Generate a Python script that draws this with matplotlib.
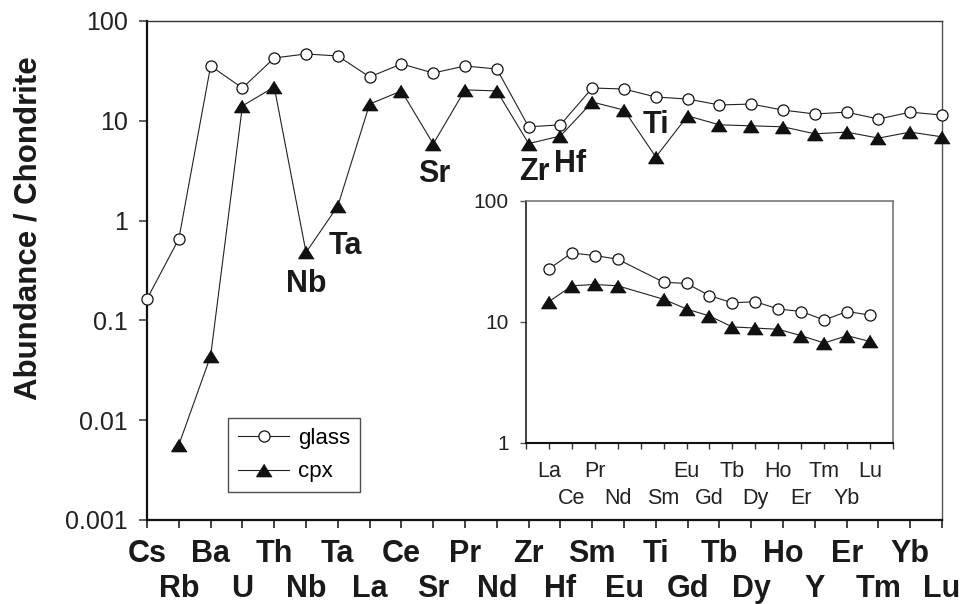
import matplotlib
matplotlib.use("Agg")
import matplotlib.pyplot as plt
from matplotlib.ticker import FixedLocator, NullLocator

plt.rcParams['font.family'] = ['Liberation Sans', 'DejaVu Sans']

# spider diagram data, values normalised to chondrite
elements = ["Cs", "Rb", "Ba", "U", "Th", "Nb", "Ta", "La", "Ce", "Sr", "Pr", "Nd", "Zr",
            "Hf", "Sm", "Eu", "Ti", "Gd", "Tb", "Dy", "Ho", "Y", "Er", "Tm", "Yb", "Lu"]
glass = [0.164, 0.655, 35.4, 21.3, 42.6, 46.7, 44.6, 27.5, 37.1, 30.1, 35.4, 33.0, 8.7,
         9.1, 21.3, 20.8, 17.3, 16.5, 14.4, 14.7, 12.8, 11.7, 12.2, 10.4, 12.2, 11.4]
cpx = [None, 0.00565, 0.044, 14.1, 21.8, 0.48, 1.40, 14.7, 19.9, 5.86, 20.4, 19.9, 5.9,
       7.04, 15.4, 12.8, 4.34, 11.2, 9.1, 8.9, 8.7, 7.4, 7.7, 6.7, 7.7, 6.9]

# rare earth elements for the inset (Pm has no data)
ree = ["La", "Ce", "Pr", "Nd", "Pm", "Sm", "Eu", "Gd", "Tb", "Dy", "Ho", "Er", "Tm", "Yb", "Lu"]

# anomaly labels: text, x position, baseline value
anomalies = [("Nb", 5.02, 0.193), ("Ta", 6.25, 0.463), ("Sr", 9.03, 2.44),
             ("Zr", 12.17, 2.55), ("Hf", 13.3, 3.07), ("Ti", 16.0, 7.55)]

main_yticks = [0.001, 0.01, 0.1, 1, 10, 100]
main_ylabels = ["0.001", "0.01", "0.1", "1", "10", "100"]

line_col = '#222222'
tri = [(0, 0.8), (-1, -0.8), (1, -0.8)]

fig = plt.figure(figsize=(9.66, 6.04), dpi=100)
ax = fig.add_axes([0.1522, 0.1391, 0.8230, 0.8262])

x = list(range(len(elements)))
cx = [i for i, v in zip(x, cpx) if v is not None]
cy = [v for v in cpx if v is not None]

ax.plot(x, glass, color=line_col, lw=0.8, marker='o', ms=8, mfc='white',
        mec='#111111', mew=0.9, label='glass', clip_on=False, zorder=3)
ax.plot(cx, cy, color=line_col, lw=0.8, marker=tri, ms=11, mfc='#111111',
        mec='#111111', label='cpx', clip_on=False, zorder=3)

ax.set_yscale('log')
ax.set_ylim(0.001, 100)
ax.set_xlim(0, len(elements) - 1)
ax.yaxis.set_major_locator(FixedLocator(main_yticks))
ax.yaxis.set_minor_locator(NullLocator())
ax.set_yticklabels(main_ylabels)

# staggered element names: even positions on the upper row, odd ones below
ax.set_xticks(x[0::2], elements[0::2], fontsize=22, fontweight='bold')
ax.set_xticks(x[1::2], elements[1::2], minor=True, fontsize=22, fontweight='bold')
ax.tick_params(axis='y', which='both', direction='out', length=5.8, width=1.2,
               labelsize=18, pad=8, color='#444444', labelcolor='#222222')
ax.tick_params(axis='x', which='both', direction='out', length=5.8, width=1.2,
               color='#222222', labelcolor='#1a1a1a')
ax.tick_params(axis='x', which='major', pad=8)
ax.tick_params(axis='x', which='minor', pad=33)

ax.spines['left'].set_linewidth(1.6)
ax.spines['bottom'].set_linewidth(1.6)
ax.spines['left'].set_color('#111111')
ax.spines['bottom'].set_color('#111111')
ax.spines['top'].set_linewidth(1.0)
ax.spines['right'].set_linewidth(1.0)
ax.spines['top'].set_color('#333333')
ax.spines['right'].set_color('#555555')

for txt, tx, ty in anomalies:
    ax.text(tx, ty, txt, fontsize=22, fontweight='bold', ha='center', va='baseline',
            color='#1a1a1a')

fig.text(29 / 966, 1 - 228 / 604, "Abundance / Chondrite", rotation=90, fontsize=22.5,
         fontweight='bold', ha='center', va='center', color='#1a1a1a')

leg = ax.legend(loc='upper left', bbox_to_anchor=(0.102, 0.204), borderaxespad=0,
                fontsize=16, frameon=True, fancybox=False, handlelength=2.3,
                labelspacing=0.55, borderpad=0.45, handletextpad=0.4)
leg.get_frame().set_edgecolor('#222222')
leg.get_frame().set_linewidth(1.0)

# inset with the rare earth pattern
ins = fig.add_axes([0.5445, 0.2666, 0.3799, 0.4007])
rx, rg, rc = [], [], []
for i, e in enumerate(ree):
    if e in elements:
        k = elements.index(e)
        rx.append(i + 1)
        rg.append(glass[k])
        rc.append(cpx[k])
ins.plot(rx, rg, color=line_col, lw=0.8, marker='o', ms=8, mfc='white',
         mec='#111111', mew=0.9, zorder=3)
ins.plot(rx, rc, color=line_col, lw=0.8, marker=tri, ms=11, mfc='#111111',
         mec='#111111', zorder=3)
ins.set_yscale('log')
ins.set_ylim(1, 100)
ins.set_xlim(0, len(ree) + 1)
ins.yaxis.set_major_locator(FixedLocator([1, 10, 100]))
ins.yaxis.set_minor_locator(NullLocator())
ins.set_yticklabels(["1", "10", "100"])

pos = list(range(len(ree) + 2))
names = [""] + ["" if e == "Pm" else e for e in ree] + [""]
ins.set_xticks(pos[1::2], names[1::2], fontsize=15.5)
ins.set_xticks(pos[0::2], names[0::2], minor=True, fontsize=15.5)
ins.tick_params(axis='y', which='both', direction='out', length=4.3, width=1.0,
                labelsize=15, pad=8, color='#555555', labelcolor='#222222')
ins.tick_params(axis='x', which='both', direction='out', length=4.3, width=1.0,
                color='#333333', labelcolor='#222222')
ins.tick_params(axis='x', which='major', pad=9)
ins.tick_params(axis='x', which='minor', pad=28.4)
ins.spines['left'].set_linewidth(1.2)
ins.spines['bottom'].set_linewidth(1.5)
ins.spines['left'].set_color('#222222')
ins.spines['bottom'].set_color('#111111')
for s in ['top', 'right']:
    ins.spines[s].set_linewidth(1.2)
    ins.spines[s].set_color('#777777')

fig.savefig("out.png", dpi=100, facecolor='white')
